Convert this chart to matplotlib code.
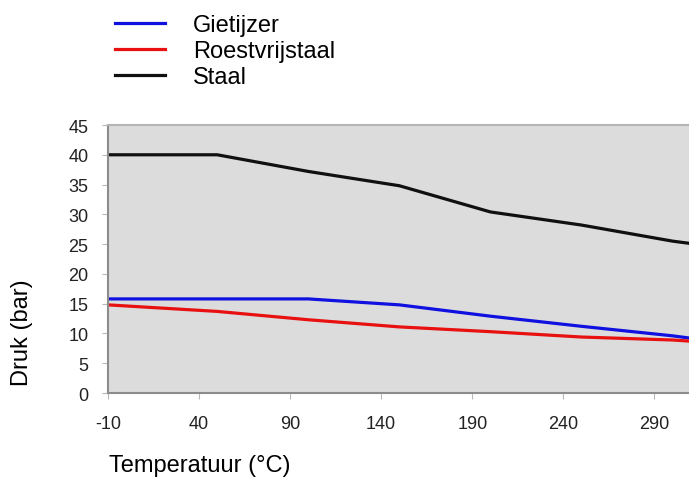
import matplotlib
matplotlib.use('Agg')
import matplotlib.pyplot as plt

# temperatures (deg C) and pressure (bar)
temps = [-10, 50, 100, 150, 200, 250, 300, 310]
gietijzer = [15.8, 15.8, 15.8, 14.8, 12.9, 11.2, 9.6, 9.2]
roestvrijstaal = [14.8, 13.7, 12.3, 11.1, 10.3, 9.4, 8.9, 8.7]
staal = [40.0, 40.0, 37.2, 34.8, 30.4, 28.2, 25.5, 25.1]

xticks = [-10, 40, 90, 140, 190, 240, 290]
yticks = [0, 5, 10, 15, 20, 25, 30, 35, 40, 45]

plt.rcParams['font.family'] = ['Liberation Sans', 'DejaVu Sans']
plt.rcParams['axes.unicode_minus'] = False

fig = plt.figure(figsize=(6.89, 4.85), dpi=100)
ax = fig.add_axes([0.1567, 0.1876, 0.8433, 0.5526])
ax.set_facecolor('#dcdcdc')

l1, = ax.plot(temps, gietijzer, color='#1010e0', lw=2.3, solid_joinstyle='round', label='Gietijzer')
l2, = ax.plot(temps, roestvrijstaal, color='#e81010', lw=2.3, solid_joinstyle='round', label='Roestvrijstaal')
l3, = ax.plot(temps, staal, color='#101010', lw=2.3, solid_joinstyle='round', label='Staal')

ax.set_xlim(-10, 309)
ax.set_ylim(0, 45)
ax.set_xticks(xticks)
ax.set_yticks(yticks)
ax.tick_params(axis='both', labelsize=13, colors='#b8b8b8', labelcolor='#222222', length=4)
ax.tick_params(axis='x', pad=12)
ax.tick_params(axis='y', pad=10)

for s in ['left', 'bottom']:
  ax.spines[s].set_color('#8c8c8c')
  ax.spines[s].set_linewidth(1.5)
ax.spines['top'].set_color('#b4b4b4')
ax.spines['top'].set_linewidth(1.5)
ax.spines['right'].set_visible(False)

fig.text(22 / 689, 1 - 333 / 485, 'Druk (bar)', rotation=90, fontsize=17,
         ha='center', va='center')
fig.text(200 / 689, 1 - 466 / 485, 'Temperatuur (\u00b0C)', fontsize=17,
         ha='center', va='center')

fig.legend(handles=[l1, l2, l3], loc='upper left', bbox_to_anchor=(106 / 689, 1 - 6 / 485),
           frameon=False, fontsize=17, handlelength=2.1, handletextpad=1.2,
           labelspacing=0.16, borderaxespad=0)

fig.savefig('out.png', dpi=100)
